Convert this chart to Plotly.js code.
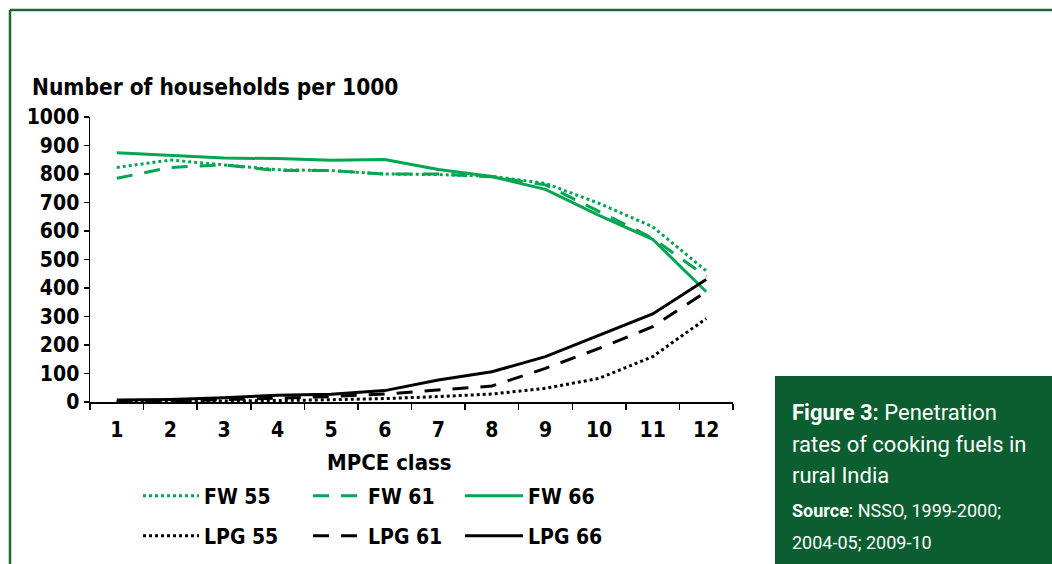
<!DOCTYPE html>
<html><head><meta charset="utf-8">
<script src="https://cdn.plot.ly/plotly-3.0.1.min.js"></script>
<style>html,body{margin:0;padding:0;background:#fff;}#chart{width:1052px;height:564px;}</style>
</head><body><div id="chart"></div>
<script>
const classes = ['1','2','3','4','5','6','7','8','9','10','11','12'];
const fw55  = [823, 849, 832, 815, 812, 800, 798, 792, 767, 697, 615, 460];
const fw61  = [785, 823, 832, 812, 812, 800, 800, 790, 762, 668, 575, 440];
const fw66  = [875, 866, 856, 854, 848, 851, 816, 791, 746, 655, 571, 387];
const lpg55 = [1, 2, 3, 5, 8, 12, 19, 28, 48, 83, 159, 293];
const lpg61 = [3, 4, 8, 13, 19, 28, 42, 56, 118, 188, 264, 387];
const lpg66 = [7, 9, 15, 24, 27, 40, 77, 106, 159, 235, 309, 430];
const yTicks = [0,100,200,300,400,500,600,700,800,900,1000];

const GREEN = '#00a651';
const FONT = '"DejaVu Sans Condensed", "DejaVu Sans", sans-serif';
const L = 90, R = 733, T = 117, B = 402;
const px = v => (v - L) / (R - L);
const py = v => (B - v) / (B - T);

function tr(name, y, color, dash, leg) {
  return {x: classes, y: y, name: name, type: 'scatter', mode: 'lines',
    line: {color: color, width: 3, dash: dash}, legend: leg, hoverinfo: 'skip'};
}
const data = [
  tr('FW 55', fw55, GREEN, 'dot', 'legend'),
  tr('FW 61', fw61, GREEN, '16px,12px', 'legend2'),
  tr('FW 66', fw66, GREEN, 'solid', 'legend3'),
  tr('LPG 55', lpg55, '#000', 'dot', 'legend4'),
  tr('LPG 61', lpg61, '#000', '16px,12px', 'legend5'),
  tr('LPG 66', lpg66, '#000', 'solid', 'legend6')
];
const legFont = {family: FONT, size: 21, color: '#000', weight: 'bold'};
function leg(lx, ly, w) {
  return {orientation: 'v', x: px(lx), y: py(ly), yanchor: 'middle', xanchor: 'left',
    itemwidth: w, font: legFont, bgcolor: 'rgba(0,0,0,0)', borderwidth: 0, itemclick: false};
}
const layout = {
  width: 1052, height: 564,
  margin: {l: L, r: 1052 - R, t: T, b: 564 - B, autoexpand: false},
  paper_bgcolor: '#fff', plot_bgcolor: '#fff',
  font: {family: FONT, color: '#000'},
  xaxis: {type: 'category', range: [-0.5, 11.5], tickson: 'boundaries', ticks: 'outside', ticklen: 6, tickwidth: 1.5,
    tickcolor: '#000', showline: true, linecolor: '#000', linewidth: 1.5, showgrid: false,
    zeroline: false, tickfont: {family: FONT, size: 21, weight: 'bold'}, ticklabelstandoff: 8,
    fixedrange: true, automargin: false},
  yaxis: {range: [0, 1000], tickvals: yTicks, ticks: 'outside', ticklen: 5, tickwidth: 1.5,
    tickcolor: '#000', showline: true, linecolor: '#000', linewidth: 1.5, showgrid: false,
    zeroline: false, tickfont: {family: FONT, size: 21, weight: 'bold'}, fixedrange: true, automargin: false},
  legend: leg(138, 496, 56),
  legend2: leg(308, 496, 50),
  legend3: leg(460, 496, 58),
  legend4: leg(138, 536, 56),
  legend5: leg(308, 536, 50),
  legend6: leg(460, 536, 58),
  showlegend: true,
  shapes: [
    {type: 'line', xref: 'paper', yref: 'paper', x0: px(10), x1: px(1060), y0: py(10), y1: py(10),
      line: {color: '#1b6b3a', width: 2.5}},
    {type: 'line', xref: 'paper', yref: 'paper', x0: px(10), x1: px(10), y0: py(10), y1: py(570),
      line: {color: '#1b6b3a', width: 2.5}},
    {type: 'rect', xref: 'paper', yref: 'paper', x0: px(775), x1: px(1060), y0: py(376), y1: py(570),
      fillcolor: '#0b5e2f', line: {width: 0}}
  ],
  annotations: [
    {xref: 'paper', yref: 'paper', x: px(30), y: py(87), xanchor: 'left', yanchor: 'middle',
      text: 'Number of households per 1000', showarrow: false,
      font: {family: FONT, size: 22.5, weight: 'bold', color: '#000'}},
    {xref: 'paper', yref: 'paper', x: px(389), y: py(462), xanchor: 'center', yanchor: 'middle',
      text: 'MPCE class', showarrow: false,
      font: {family: FONT, size: 22, weight: 'bold', color: '#000'}},
    {xref: 'paper', yref: 'paper', x: px(790), y: py(412), xanchor: 'left', yanchor: 'middle',
      text: '<b>Figure 3:</b> Penetration', showarrow: false, align: 'left',
      font: {family: 'Roboto, sans-serif', size: 22, color: '#fff'}},
    {xref: 'paper', yref: 'paper', x: px(790), y: py(444), xanchor: 'left', yanchor: 'middle',
      text: 'rates of cooking fuels in', showarrow: false, align: 'left',
      font: {family: 'Roboto, sans-serif', size: 22, color: '#fff'}},
    {xref: 'paper', yref: 'paper', x: px(790), y: py(475), xanchor: 'left', yanchor: 'middle',
      text: 'rural India', showarrow: false, align: 'left',
      font: {family: 'Roboto, sans-serif', size: 22, color: '#fff'}},
    {xref: 'paper', yref: 'paper', x: px(790), y: py(510), xanchor: 'left', yanchor: 'middle',
      text: '<b>Source</b>: NSSO, 1999-2000;', showarrow: false, align: 'left',
      font: {family: 'Roboto, sans-serif', size: 18, color: '#fff'}},
    {xref: 'paper', yref: 'paper', x: px(790), y: py(542), xanchor: 'left', yanchor: 'middle',
      text: '2004-05; 2009-10', showarrow: false, align: 'left',
      font: {family: 'Roboto, sans-serif', size: 18, color: '#fff'}}
  ]
};
Plotly.newPlot('chart', data, layout, {displayModeBar: false, staticPlot: true});
</script></body></html>
